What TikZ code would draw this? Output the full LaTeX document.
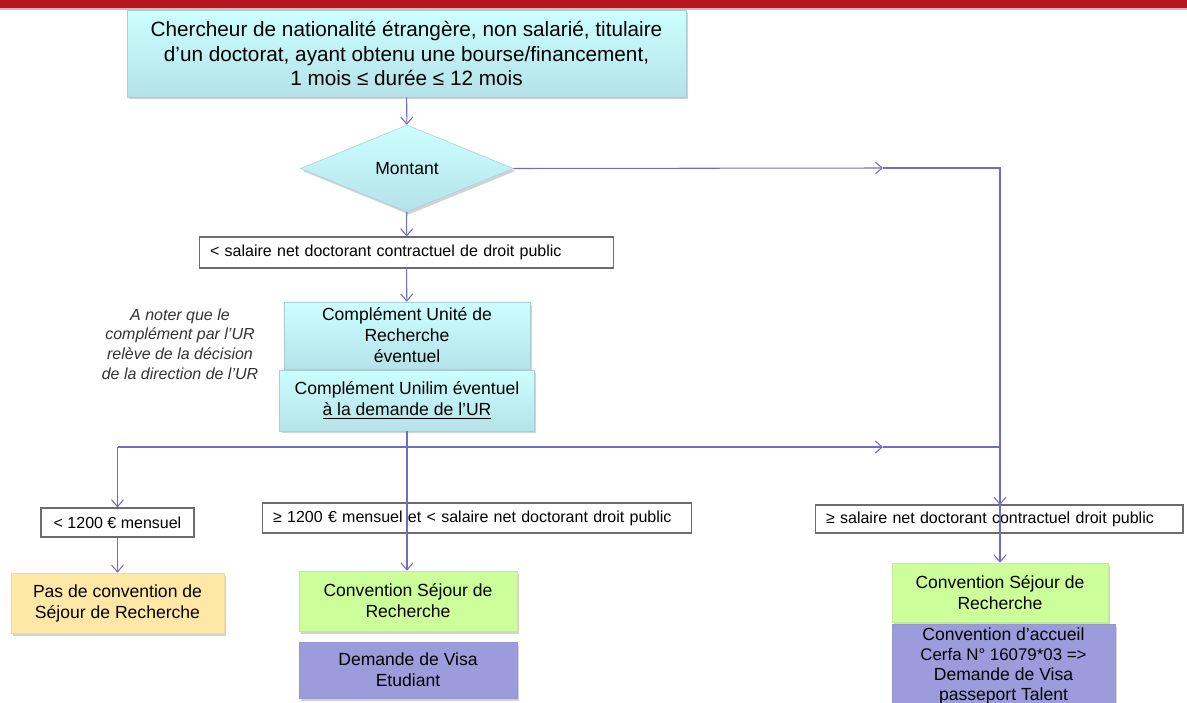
\documentclass[tikz,border=0pt]{standalone}
\usepackage{fontspec}
\setmainfont{Liberation Sans}
\usepackage{xcolor}
\usetikzlibrary{calc}
\usetikzlibrary{arrows.meta,shapes.geometric,shadows}

\definecolor{barred}{HTML}{B5161F}
\definecolor{flowblue}{HTML}{6E6EC8}
\definecolor{cyantop}{HTML}{CCFFFF}
\definecolor{cyanbot}{HTML}{B4E2E8}
\definecolor{greenbox}{HTML}{CCFF99}
\definecolor{yellowbox}{HTML}{FFE8A6}
\definecolor{violetbox}{HTML}{9C9CDC}

\begin{document}
\begin{tikzpicture}[x=0.02cm, y=-0.02cm,
        flow/.style={flowblue, line width=0.6pt, -{Straight Barb[length=1.4mm,width=2.4mm]}},
        wire/.style={flowblue, line width=0.6pt},
        shade/.style={drop shadow={shadow xshift=0.4mm, shadow yshift=-0.5mm, opacity=0.35, fill=gray}},
        cyanbox/.style={shade, top color=cyantop, bottom color=cyanbot, draw=cyanbot!80!gray, line width=0.3pt, align=center, inner sep=1pt, font=\fontsize{10}{11.9}\selectfont},
        colbox/.style={shade, draw=#1!85!gray, line width=0.3pt, fill=#1, align=center, inner sep=1pt, font=\fontsize{10}{11.9}\selectfont},
        condbox/.style={draw=gray!85!black, line width=0.6pt, fill=white, align=left, inner xsep=0.22cm, inner ysep=0pt, font=\fontsize{9.1}{10.5}\selectfont}
    ]
        %CADRE
        \useasboundingbox (0,0) rectangle (1187,703);
        \fill[barred] (0,0) rectangle (1187,8);
        \fill[barred!35] (0,8) rectangle (1187,10);

        %BOITES
        \node[cyanbox, minimum width=11.18cm, minimum height=1.74cm, font=\fontsize{11.8}{14.2}\selectfont] (top) at (406.5,53.5)
            {Chercheur de nationalité étrangère, non salarié, titulaire\\ d’un doctorat, ayant obtenu une bourse/financement,\\ 1 mois ≤ durée ≤ 12 mois};
        \node[cyanbox, diamond, aspect=2.45, inner sep=0pt, minimum width=4.26cm, minimum height=1.74cm] (mont) at (407,168.5) {Montant};
        \node[condbox, text width=7.86cm, minimum height=0.62cm] (sal) at (406.5,252.5)
            {< salaire net doctorant contractuel de droit public};
        \node[cyanbox, minimum width=4.92cm, minimum height=1.34cm] (ur) at (407,335.5)
            {Complément Unité de\\ Recherche\\ éventuel};
        \node[cyanbox, minimum width=5.1cm, minimum height=1.22cm] (uni) at (407,400.5)
            {Complément Unilim éventuel\\ \underline{à la demande de l’UR}};
        \node[align=center, font=\fontsize{9.1}{11.2}\selectfont\itshape, text=black!80] (note) at (180,344)
            {A noter que le\\ complément par l’UR\\ relève de la décision\\ de la direction de l’UR};

        \node[condbox, align=center, inner xsep=1pt, minimum width=3.06cm, minimum height=0.58cm] (lt) at (117.5,522.5)
            {< 1200 € mensuel};
        \node[colbox=yellowbox, minimum width=4.26cm, minimum height=1.2cm] (pas) at (117.5,603)
            {Pas de convention de\\ Séjour de Recherche};

        \node[condbox, text width=8.16cm, minimum height=0.6cm] (mid) at (477,518)
            {≥ 1200 € mensuel et < salaire net doctorant droit public};
        \node[colbox=greenbox, minimum width=4.36cm, minimum height=1.2cm] (conva) at (408,601)
            {Convention Séjour de\\ Recherche};
        \node[colbox=violetbox, minimum width=4.36cm, minimum height=1.12cm] (visaa) at (408,670)
            {Demande de Visa\\ Etudiant};

        \node[condbox, text width=6.92cm, minimum height=0.56cm] (ge) at (999,519)
            {≥ salaire net doctorant contractuel droit public};
        \node[colbox=greenbox, minimum width=4.32cm, minimum height=1.18cm] (convb) at (1000,592.5)
            {Convention Séjour de\\ Recherche};
        \node[colbox=violetbox, minimum width=4.46cm, minimum height=1.66cm, font=\fontsize{10}{11.3}\selectfont] (visab) at (1003.5,666)
            {Convention d’accueil\\ {\fontsize{9.6}{11.3}\selectfont Cerfa N° 16079*03 =>}\\ Demande de Visa\\ passeport Talent};

        %POINTS
        \coordinate (ka) at (883,168);
        \coordinate (kb) at (1000,168);
        \coordinate (ja) at (407,447);
        \coordinate (jl) at (117.5,447);
        \coordinate (jr) at (883,447);
        \coordinate (jk) at (1000,447);
        \coordinate (gt) at (1000,505);

        %FLECHES
        \draw[flow] (top) -- (mont);
        \draw[flow] (mont) -- (sal);
        \draw[flow] (sal) -- (ur);
        \draw[flow] (mont.east) -- (ka);
        \draw[wire] (ka) -- (kb) -- (jk);
        \draw[wire] (uni.south) -- (ja);
        \draw[wire] (jl) -- (ja);
        \draw[flow] (ja) -- (jr);
        \draw[wire] (jr) -- (jk);
        \draw[flow] (jk) -- (gt);
        \draw[flow] (gt) -- (convb.north);
        \draw[flow] (jl) -- (lt);
        \draw[flow] (lt) -- (pas);
        \draw[flow] (ja) -- (conva.north -| ja);
    \end{tikzpicture}
\end{document}
